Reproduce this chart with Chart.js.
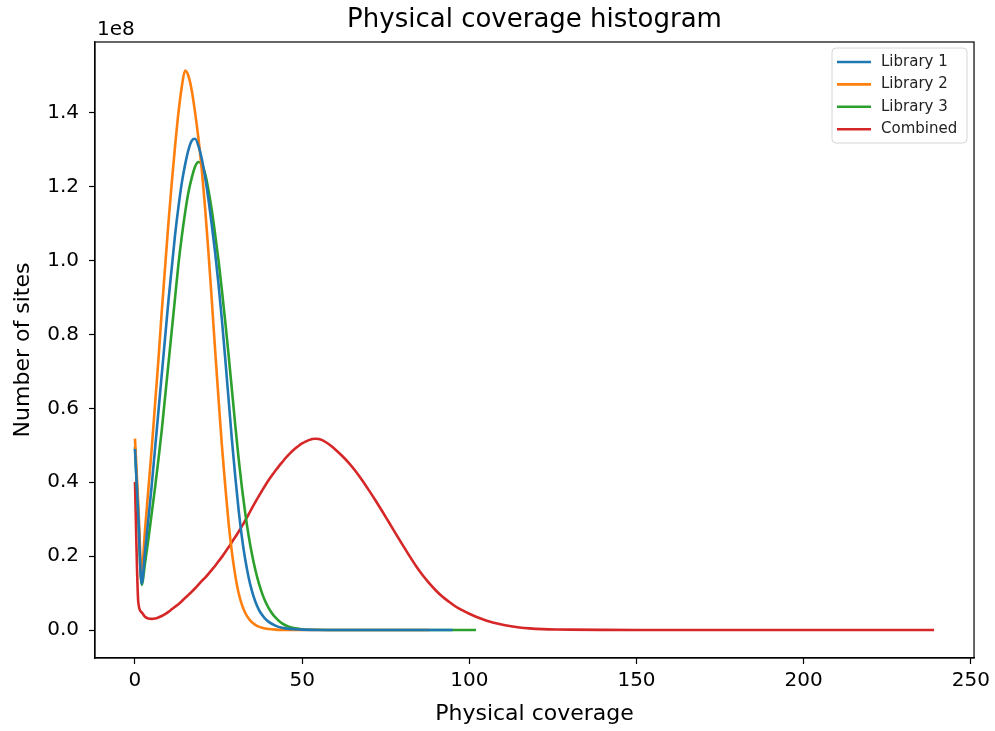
<!DOCTYPE html>
<html>
<head>
<meta charset="utf-8">
<script src="https://cdn.jsdelivr.net/npm/chart.js@4.4.1/dist/chart.umd.min.js"></script>
<style>
  html, body { margin: 0; padding: 0; background: #fff; }
  canvas { display: block; }
</style>
</head>
<body>
<canvas id="covChart" width="995" height="731"></canvas>
<script>
/* =========================
   Datos (número de sitios, en unidades de 1e8)
========================= */
const seriesNames = ["Library 1", "Library 2", "Library 3", "Combined"];
const seriesColors = ["#1f77b4", "#ff7f0e", "#2ca02c", "#d62728"];

const lib1X = [0,1,2,3,4,5,6,7,8,9,10,11,12,13,14,15,16,17,18,19,20,21,22,23,24,25,26,27,28,29,30,31,32,33,34,35,36,37,38,39,40,42,44,46,50,55,95];
const lib1Y = [0.49,0.31,0.125,0.21,0.30,0.39,0.49,0.59,0.69,0.79,0.89,0.98,1.07,1.145,1.21,1.26,1.30,1.325,1.33,1.31,1.275,1.225,1.165,1.095,1.02,0.935,0.84,0.735,0.625,0.515,0.415,0.325,0.25,0.19,0.142,0.105,0.077,0.056,0.041,0.03,0.022,0.012,0.006,0.003,0.001,0,0];

const lib2X = [0,1,2,3,4,5,6,7,8,9,10,11,12,13,14,15,16,17,18,19,20,21,22,23,24,25,26,27,28,29,30,31,32,33,34,35,36,37,38,40,42,45,50,88];
const lib2Y = [0.518,0.34,0.155,0.27,0.38,0.49,0.61,0.73,0.86,0.98,1.10,1.21,1.31,1.40,1.47,1.515,1.50,1.46,1.40,1.33,1.245,1.14,1.02,0.89,0.755,0.625,0.50,0.39,0.29,0.21,0.148,0.10,0.068,0.046,0.031,0.021,0.014,0.009,0.006,0.0025,0.001,0.0003,0,0];

const lib3X = [0,1,2,3,4,5,6,7,8,9,10,11,12,13,14,15,16,17,18,19,20,21,22,23,24,25,26,27,28,29,30,31,32,33,34,35,36,37,38,39,40,41,42,43,44,46,48,50,55,60,102];
const lib3Y = [0.496,0.31,0.122,0.18,0.245,0.315,0.385,0.46,0.54,0.63,0.72,0.81,0.90,0.99,1.065,1.13,1.185,1.225,1.255,1.267,1.26,1.235,1.19,1.135,1.07,1.0,0.92,0.835,0.745,0.65,0.555,0.465,0.385,0.315,0.255,0.205,0.163,0.128,0.10,0.077,0.059,0.045,0.034,0.025,0.018,0.009,0.0045,0.002,0.0005,0,0];

const combX = [0,1,2,3,4,5,6,7,8,9,10,11,12,13,14,15,16,17,18,19,20,21,22,23,24,25,26,27,28,29,30,31,32,33,34,35,36,37,38,39,40,41,42,43,44,45,46,47,48,49,50,51,52,53,54,55,56,57,58,59,60,62,64,66,68,70,72,74,76,78,80,82,84,86,88,90,92,94,96,98,100,102,104,106,108,110,112,115,118,122,126,130,140,150,170,200,239];
const combY = [0.401,0.075,0.048,0.036,0.031,0.030,0.031,0.034,0.038,0.043,0.049,0.056,0.063,0.070,0.078,0.087,0.095,0.104,0.113,0.123,0.133,0.142,0.152,0.163,0.174,0.186,0.198,0.211,0.224,0.238,0.252,0.266,0.281,0.297,0.313,0.330,0.346,0.362,0.377,0.392,0.406,0.419,0.431,0.443,0.454,0.465,0.475,0.484,0.492,0.499,0.505,0.510,0.514,0.517,0.518,0.517,0.514,0.509,0.503,0.496,0.488,0.471,0.452,0.430,0.405,0.378,0.350,0.321,0.291,0.261,0.231,0.202,0.174,0.149,0.127,0.107,0.090,0.076,0.063,0.053,0.044,0.036,0.029,0.023,0.018,0.014,0.011,0.007,0.0045,0.0025,0.0015,0.001,0.0004,0.0002,0.0001,0,0];

const xTicks = [0, 50, 100, 150, 200, 250];
const yTicks = [0, 0.2, 0.4, 0.6, 0.8, 1.0, 1.2, 1.4];
const xRange = [-11.95, 250.95];
const yRange = [-0.0758, 1.592];

const FONT = "DejaVu Sans";

function toPoints(xs, ys){
  return xs.map((x, i) => ({ x, y: ys[i] }));
}

const allSeries = [
  toPoints(lib1X, lib1Y),
  toPoints(lib2X, lib2Y),
  toPoints(lib3X, lib3Y),
  toPoints(combX, combY)
];

/* =========================
   Marco, título, etiquetas y leyenda
========================= */
const decoPlugin = {
  id: "deco",
  afterDatasetsDraw(chart){
    const { ctx, chartArea: a } = chart;
    ctx.save();

    // marco completo (como matplotlib)
    ctx.strokeStyle = "#000";
    ctx.lineWidth = 1.2;
    ctx.strokeRect(a.left, a.top, a.right - a.left, a.bottom - a.top);

    // título
    ctx.fillStyle = "#000";
    ctx.textAlign = "center";
    ctx.textBaseline = "alphabetic";
    ctx.font = `26px "${FONT}"`;
    ctx.fillText("Physical coverage histogram", (a.left + a.right) / 2, 27);

    // multiplicador del eje y
    ctx.textAlign = "left";
    ctx.font = `20px "${FONT}"`;
    ctx.fillText("1e8", a.left + 2, 35);

    // etiqueta eje x
    ctx.font = `22px "${FONT}"`;
    ctx.textAlign = "center";
    ctx.textBaseline = "middle";
    ctx.fillText("Physical coverage", (a.left + a.right) / 2, 714);

    // etiqueta eje y
    ctx.save();
    ctx.translate(23, (a.top + a.bottom) / 2);
    ctx.rotate(-Math.PI / 2);
    ctx.fillText("Number of sites", 0, 0);
    ctx.restore();

    // leyenda
    const bx = 832, by = 48, bw = 135, bh = 95;
    ctx.beginPath();
    ctx.roundRect(bx, by, bw, bh, 4);
    ctx.fillStyle = "rgba(255,255,255,0.8)";
    ctx.fill();
    ctx.strokeStyle = "#d6d6d6";
    ctx.lineWidth = 1;
    ctx.stroke();

    ctx.font = `15px "${FONT}"`;
    ctx.textAlign = "left";
    ctx.textBaseline = "middle";
    seriesNames.forEach((name, i) => {
      const yy = 62 + i * 22.4;
      ctx.strokeStyle = seriesColors[i];
      ctx.lineWidth = 2.6;
      ctx.beginPath();
      ctx.moveTo(837, yy);
      ctx.lineTo(871, yy);
      ctx.stroke();
      ctx.fillStyle = "#222";
      ctx.fillText(name, 881, yy);
    });

    ctx.restore();
  }
};

const ctx = document.getElementById("covChart").getContext("2d");

new Chart(ctx, {
  type: "line",
  data: {
    datasets: allSeries.map((pts, i) => ({
      label: seriesNames[i],
      data: pts,
      borderColor: seriesColors[i],
      backgroundColor: seriesColors[i],
      borderWidth: 2.6,
      pointRadius: 0,
      fill: false,
      cubicInterpolationMode: "monotone"
    }))
  },
  options: {
    responsive: false,
    animation: false,
    devicePixelRatio: 1,
    layout: { padding: { top: 42, right: 18, left: 0, bottom: 0 } },
    plugins: {
      legend: { display: false },
      title: { display: false },
      tooltip: { enabled: false }
    },
    scales: {
      x: {
        type: "linear",
        min: xRange[0],
        max: xRange[1],
        afterFit: (s) => { s.height = 73; },
        afterBuildTicks: (s) => { s.ticks = xTicks.map(v => ({ value: v })); },
        ticks: {
          color: "#000",
          font: { family: FONT, size: 20 },
          padding: 5,
          maxRotation: 0,
          callback: (v) => String(v)
        },
        grid: {
          drawOnChartArea: false,
          drawTicks: true,
          tickLength: 6,
          tickColor: "#000",
          tickWidth: 1.2
        },
        border: { display: true, color: "#000", width: 1.2 }
      },
      y: {
        type: "linear",
        min: yRange[0],
        max: yRange[1],
        afterFit: (s) => { s.width = 95; },
        afterBuildTicks: (s) => { s.ticks = yTicks.map(v => ({ value: v })); },
        ticks: {
          color: "#000",
          font: { family: FONT, size: 20 },
          padding: 10,
          callback: (v) => v.toFixed(1)
        },
        grid: {
          drawOnChartArea: false,
          drawTicks: true,
          tickLength: 6,
          tickColor: "#000",
          tickWidth: 1.2
        },
        border: { display: true, color: "#000", width: 1.2 }
      }
    }
  },
  plugins: [decoPlugin]
});
</script>
</body>
</html>
